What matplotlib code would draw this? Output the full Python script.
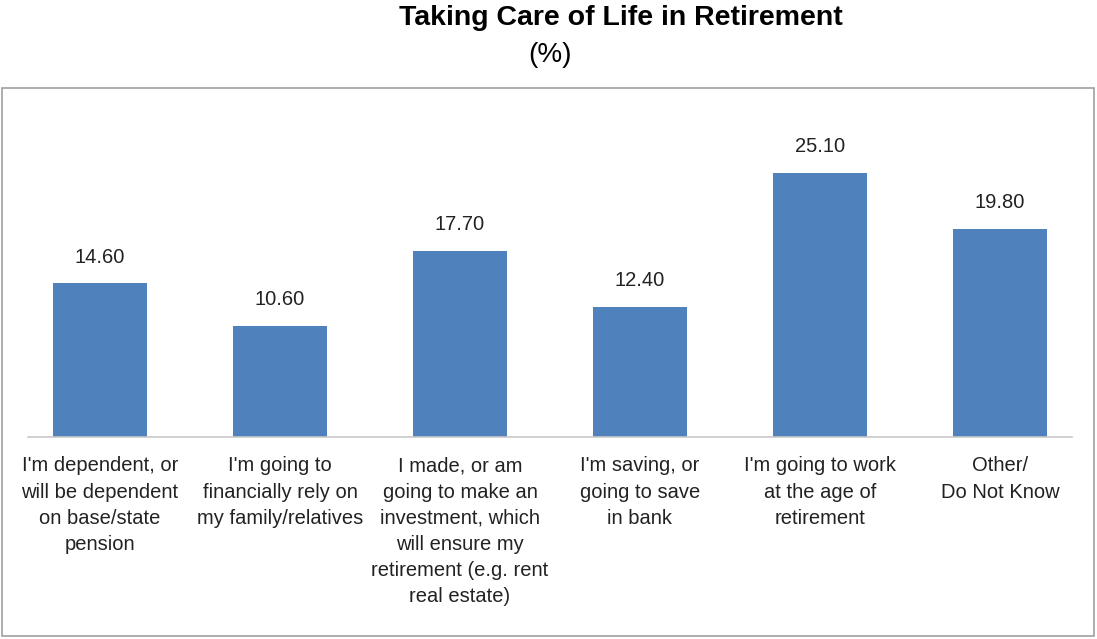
import matplotlib.pyplot as plt
from matplotlib.patches import Rectangle

categories = [
    "I'm dependent, or\nwill be dependent\non base/state\npension",
    "I'm going to\nfinancially rely on\nmy family/relatives",
    "I made, or am\ngoing to make an\ninvestment, which\nwill ensure my\nretirement (e.g. rent\nreal estate)",
    "I'm saving, or\ngoing to save\nin bank",
    "I'm going to work\nat the age of\nretirement",
    "Other/\nDo Not Know",
]
values = [14.60, 10.60, 17.70, 12.40, 25.10, 19.80]

plt.rcParams['font.family'] = ['Liberation Sans', 'DejaVu Sans']

fig = plt.figure(figsize=(10.97, 6.39), dpi=100)
ax = fig.add_axes([28 / 1097, 1 - 437 / 639, (1072 - 28) / 1097, (437 - 142.5) / 639])

x = range(len(values))
ax.bar(x, values, width=0.52, color='#4F81BD')
for i, v in zip(x, values):
    ax.text(i, v + 2.5, f"{v:.2f}", ha='center', va='center', fontsize=14.5, color='#222222')

ax.set_xlim(-0.4, 5.4)
ax.set_ylim(0, 28)
ax.set_yticks([])
ax.set_xticks([])
for s in ['top', 'left', 'right']:
    ax.spines[s].set_visible(False)
ax.spines['bottom'].set_color('#C8C8C8')
ax.spines['bottom'].set_linewidth(1.2)

for i, lab in zip(x, categories):
    ax.text(i, -1.85, lab, ha='center', va='top', fontsize=14.5, color='#222222',
            linespacing=1.48)

# outer frame
fig.patches.append(Rectangle((2 / 1097, 1 - 636 / 639), 1092 / 1097, 548 / 639,
                             transform=fig.transFigure, fill=False,
                             edgecolor='#A0A0A0', linewidth=1.2))

fig.text(621 / 1097, 1 - 18 / 639, "Taking Care of Life in Retirement",
         ha='center', va='center', fontsize=20.5, fontweight='bold')
fig.text(550 / 1097, 1 - 55 / 639, "(%)", ha='center', va='center', fontsize=20)

fig.savefig('out.png', dpi=100)
